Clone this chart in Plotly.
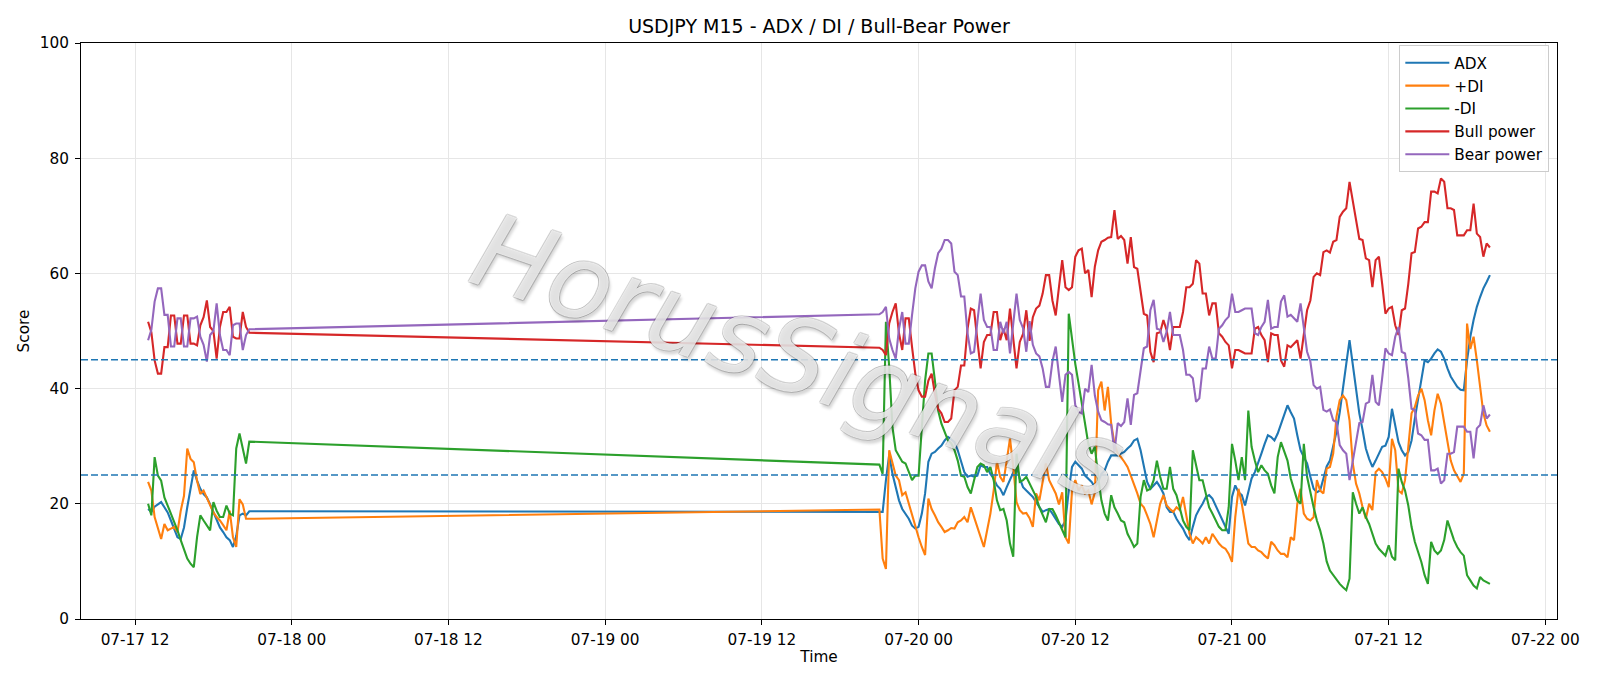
import plotly.graph_objects as go
import pandas as pd

# ---------------- data ----------------
SEG1_START = "2020-07-17 13:00"
SEG2_START = "2020-07-19 21:00"

ADX1 = [19.1, 18.6, 19.5, 19.9, 20.3, 19.4, 18.5, 17.1, 15.7, 14.2, 13.9, 15.9, 19.4, 22.9, 25.8, 24.0,
        22.6, 21.7, 21.1, 19.9, 18.5, 17.1, 15.9, 15.1, 14.2, 13.7, 12.5, 14.4, 18.0, 18.3, 18.0, 18.7]
PDI1 = [23.8, 22.3, 17.7, 16.0, 13.9, 16.5, 15.4, 15.7, 16.0, 15.1, 18.8, 21.4, 29.6, 27.8, 27.2, 24.0,
        21.7, 22.3, 21.1, 19.9, 18.5, 17.7, 17.1, 16.3, 15.4, 18.8, 14.2, 12.5, 20.8, 19.9, 17.4, 17.4]
MDI1 = [20.0, 18.0, 28.1, 24.9, 24.0, 21.1, 19.7, 18.3, 16.8, 15.4, 13.7, 12.2, 10.5, 9.6, 9.0, 14.2,
        18.0, 17.1, 16.3, 15.4, 20.3, 18.8, 17.7, 17.7, 19.7, 18.3, 18.0, 29.6, 32.2, 29.3, 27.0, 30.8]
BULL1 = [51.6, 49.8, 44.9, 42.6, 42.6, 47.2, 47.2, 52.7, 52.7, 47.8, 47.8, 52.7, 52.7, 47.8, 47.8, 47.5,
         51.0, 52.4, 55.3, 50.7, 50.0, 45.2, 50.7, 53.3, 53.3, 54.2, 49.0, 48.7, 48.7, 53.3, 50.7, 49.7]
BEAR1 = [48.4, 50.2, 55.1, 57.4, 57.4, 52.8, 52.8, 47.3, 47.3, 52.2, 52.2, 47.3, 47.3, 52.2, 52.2, 52.5,
         49.0, 47.6, 44.7, 49.3, 50.0, 54.8, 49.3, 46.7, 46.7, 45.8, 51.0, 51.3, 51.3, 46.7, 49.3, 50.3]

ADX2 = [18.6, 18.6, 24.1, 28.5, 25.2, 22.6, 20.6, 19.1, 18.3, 17.4,
        16.2, 15.7, 16.0, 18.3, 21.8, 27.3, 28.7, 29.0, 29.6, 30.1,
        31.0, 31.6, 31.2, 30.7, 29.3, 27.5, 25.5, 24.7, 24.9, 24.7,
        24.9, 26.7, 26.4, 26.4, 25.2, 24.4, 23.2, 22.6, 21.5, 22.9,
        24.1, 25.2, 26.7, 24.4, 22.9, 22.3, 21.8, 21.2, 20.3, 19.4,
        18.6, 18.9, 19.1, 18.3, 17.4, 16.5, 16.0, 17.1, 22.3, 26.4,
        27.3, 26.7, 26.1, 24.9, 24.4, 23.8, 22.9, 23.8, 25.2, 25.8,
        27.3, 28.4, 28.4, 28.4, 28.7, 29.0, 29.6, 30.1, 31.0, 31.3,
        29.3, 26.4, 23.8, 22.6, 23.2, 23.8, 22.9, 21.8, 19.4, 18.6,
        18.6, 17.4, 16.5, 15.7, 14.5, 13.7, 16.0, 18.0, 19.1, 20.0,
        21.2, 21.5, 20.9, 19.7, 18.3, 17.1, 16.0, 14.8, 21.2, 23.2,
        22.0, 21.5, 19.7, 22.3, 24.4, 25.5, 27.3, 28.7, 30.4, 31.9,
        31.6, 31.0, 32.2, 33.9, 35.4, 37.1, 35.9, 34.8, 31.9, 29.3,
        28.1, 27.0, 24.7, 22.6, 22.0, 22.3, 24.4, 26.5, 27.5, 29.9,
        32.5, 35.9, 39.7, 44.3, 48.4, 44.3, 39.7, 35.7, 32.8, 29.6,
        27.8, 26.4, 27.5, 28.7, 29.9, 30.1, 31.6, 36.5, 33.9, 30.7,
        29.3, 28.4, 29.0, 31.0, 34.8, 38.3, 41.4, 44.9, 44.6, 45.2,
        46.1, 46.8, 46.4, 45.2, 43.5, 42.1, 41.2, 40.3, 39.8, 39.7,
        44.9, 49.0, 51.9, 54.2, 55.9, 57.4, 58.5, 59.7]
PDI2 = [19.0, 10.5, 8.7, 29.3, 27.3, 24.9, 24.1, 21.5, 22.0, 20.0,
        18.3, 16.3, 14.2, 12.5, 11.1, 20.9, 19.1, 18.0, 16.8, 16.0,
        15.1, 15.4, 15.8, 15.7, 16.8, 17.1, 17.7, 16.8, 19.4, 17.7,
        16.0, 14.5, 12.5, 15.4, 18.3, 22.3, 27.3, 24.7, 23.8, 27.5,
        31.3, 26.4, 20.3, 18.9, 18.3, 18.4, 17.5, 16.0, 21.8, 20.6,
        24.1, 27.0, 24.1, 22.9, 21.8, 19.9, 22.0, 14.2, 13.1, 22.3,
        24.1, 22.3, 23.2, 21.8, 22.3, 19.9, 22.0, 39.7, 41.2, 36.2,
        40.3, 33.9, 30.4, 28.7, 28.1, 27.3, 26.4, 24.9, 23.5, 21.8,
        20.0, 19.4, 18.0, 16.5, 14.2, 16.8, 20.0, 21.5, 19.7, 19.1,
        18.6, 19.4, 18.9, 21.2, 18.3, 14.8, 13.1, 14.2, 13.7, 13.1,
        14.2, 13.1, 14.8, 13.9, 13.1, 12.5, 12.2, 11.3, 9.9, 17.7,
        22.6, 20.0, 16.8, 13.1, 12.5, 12.5, 11.9, 11.6, 11.0, 10.5,
        13.4, 12.8, 11.9, 11.3, 11.3, 10.7, 14.2, 13.7, 20.0, 22.6,
        18.3, 17.4, 17.1, 17.7, 24.1, 22.3, 21.8, 26.1, 26.4, 28.7,
        35.1, 38.0, 38.8, 38.0, 34.5, 27.0, 23.5, 21.8, 19.4, 17.4,
        20.0, 18.9, 25.5, 26.1, 25.5, 24.4, 22.9, 31.3, 29.3, 22.3,
        21.8, 24.1, 29.9, 35.7, 36.8, 38.8, 40.0, 38.0, 34.5, 31.9,
        36.2, 39.1, 37.4, 33.9, 30.7, 27.5, 25.8, 24.9, 23.8, 25.2,
        51.3, 46.9, 49.0, 44.9, 40.3, 35.7, 33.6, 32.5]
MDI2 = [26.8, 25.2, 51.6, 43.8, 33.3, 29.3, 28.4, 27.3, 27.0, 25.5,
        24.1, 24.9, 24.9, 33.3, 41.4, 46.1, 46.1, 41.4, 36.2, 33.9,
        32.5, 31.0, 30.5, 29.3, 27.5, 24.9, 24.7, 22.9, 21.8, 24.4,
        26.4, 27.0, 26.7, 25.5, 26.4, 24.1, 20.6, 18.9, 19.1, 17.1,
        13.1, 10.8, 28.7, 23.8, 24.1, 24.7, 23.5, 22.3, 21.2, 19.4,
        18.0, 16.8, 19.1, 19.1, 18.0, 16.8, 15.7, 14.2, 53.0, 48.4,
        44.3, 40.9, 37.4, 33.9, 30.4, 28.7, 29.9, 24.7, 20.6, 18.3,
        17.1, 21.5, 19.4, 18.3, 17.1, 16.8, 14.8, 13.7, 12.5, 13.1,
        21.2, 24.1, 22.3, 22.6, 24.1, 27.5, 24.7, 22.6, 22.6, 26.4,
        22.6, 21.5, 19.4, 17.1, 16.0, 15.4, 29.3, 26.7, 24.1, 24.1,
        21.8, 19.4, 18.3, 17.1, 16.0, 15.4, 15.4, 19.4, 30.4, 27.5,
        24.1, 28.1, 24.1, 36.2, 29.9, 27.5, 25.5, 26.7, 25.8, 25.2,
        23.2, 21.8, 28.1, 30.7, 29.0, 27.5, 24.4, 22.3, 20.6, 20.0,
        30.4, 24.7, 21.8, 19.4, 17.1, 15.4, 13.1, 10.0, 8.4, 7.6,
        6.7, 6.1, 5.5, 5.0, 7.0, 22.0, 20.0, 18.3, 19.4, 17.7,
        16.5, 14.8, 13.1, 12.2, 11.6, 11.0, 12.8, 10.8, 10.2, 26.1,
        23.8, 22.3, 19.7, 16.0, 13.4, 11.6, 9.9, 7.6, 6.1, 13.4,
        11.9, 11.3, 11.9, 13.7, 17.1, 15.4, 13.7, 12.5, 11.6, 11.0,
        7.6, 6.7, 5.8, 5.3, 7.3, 6.7, 6.4, 6.1]
BULL2 = [47.1, 46.7, 45.8, 51.3, 53.3, 54.8, 49.6, 46.7, 52.2, 52.2,
         47.2, 42.6, 39.7, 38.6, 38.6, 41.4, 42.6, 39.1, 36.5, 35.7,
         34.2, 34.2, 34.8, 39.7, 40.3, 44.0, 44.0, 50.4, 53.9, 53.6,
         48.4, 43.5, 48.1, 49.3, 49.3, 53.3, 53.3, 48.4, 50.4, 48.4,
         53.9, 48.4, 43.5, 48.1, 49.5, 53.6, 48.3, 52.4, 53.9, 54.4,
         56.5, 59.7, 59.7, 55.3, 52.7, 57.6, 62.3, 57.6, 57.1, 57.6,
         62.9, 64.0, 64.3, 60.0, 60.6, 55.9, 61.2, 64.0, 65.5, 65.8,
         66.2, 66.3, 71.0, 66.0, 66.5, 65.8, 61.7, 66.3, 61.1, 60.8,
         56.8, 53.0, 52.7, 46.4, 44.6, 49.6, 49.8, 51.9, 50.1, 46.7,
         50.7, 50.7, 50.7, 53.3, 57.6, 57.6, 58.2, 62.3, 61.7, 56.5,
         56.5, 52.7, 54.8, 54.8, 49.6, 49.0, 48.1, 47.5, 43.5, 46.7,
         46.7, 46.4, 46.1, 46.1, 46.1, 50.4, 50.7, 49.3, 48.4, 44.6,
         49.6, 49.3, 49.3, 44.9, 43.8, 47.5, 47.2, 47.8, 48.4, 45.2,
         49.6, 53.6, 55.3, 59.4, 60.0, 59.7, 63.7, 64.0, 63.6, 65.5,
         65.8, 69.8, 70.7, 71.3, 75.9, 72.7, 69.5, 66.0, 65.8, 62.6,
         62.3, 57.6, 62.3, 62.9, 58.2, 53.0, 53.9, 54.2, 51.0, 49.3,
         53.6, 53.9, 58.2, 63.5, 63.7, 67.8, 68.1, 68.9, 68.9, 74.2,
         74.2, 73.9, 76.5, 75.9, 71.3, 71.3, 71.0, 66.6, 66.6, 66.6,
         67.5, 67.5, 72.1, 66.9, 66.3, 62.9, 65.2, 64.5]
BEAR2 = [52.9, 53.3, 54.2, 48.7, 46.7, 45.2, 50.4, 53.3, 47.8, 47.8,
         52.8, 57.4, 60.3, 61.4, 61.4, 58.6, 57.4, 60.9, 63.5, 64.3,
         65.8, 65.8, 65.2, 60.3, 59.7, 56.0, 56.0, 49.6, 46.1, 46.4,
         51.6, 56.5, 51.9, 50.7, 50.7, 46.7, 46.7, 51.6, 49.6, 51.6,
         46.1, 51.6, 56.5, 51.9, 50.5, 46.4, 51.7, 47.6, 46.1, 45.6,
         43.5, 40.3, 40.3, 44.7, 47.3, 42.4, 37.7, 42.4, 42.9, 42.4,
         37.1, 36.0, 35.7, 40.0, 39.4, 44.1, 38.8, 36.0, 34.5, 34.2,
         33.8, 33.7, 29.0, 34.0, 33.5, 34.2, 38.3, 33.7, 38.9, 39.2,
         43.2, 47.0, 47.3, 53.6, 55.4, 50.4, 50.2, 48.1, 49.9, 53.3,
         49.3, 49.3, 49.3, 46.7, 42.4, 42.4, 41.8, 37.7, 38.3, 43.5,
         43.5, 47.3, 45.2, 45.2, 50.4, 51.0, 51.9, 52.5, 56.5, 53.3,
         53.3, 53.6, 53.9, 53.9, 53.9, 49.6, 49.3, 50.7, 51.6, 55.4,
         50.4, 50.7, 50.7, 55.1, 56.2, 52.5, 52.8, 52.2, 51.6, 54.8,
         50.4, 46.4, 44.7, 40.6, 40.0, 40.3, 36.3, 36.0, 36.4, 34.5,
         34.2, 30.2, 29.3, 28.7, 24.1, 27.3, 30.5, 34.0, 34.2, 37.4,
         37.7, 42.4, 37.7, 37.1, 41.8, 47.0, 46.1, 45.8, 49.0, 50.7,
         46.4, 46.1, 41.8, 36.5, 36.3, 32.2, 31.9, 31.1, 31.1, 25.8,
         25.8, 26.1, 23.5, 24.1, 28.7, 28.7, 29.0, 33.4, 33.4, 33.4,
         32.5, 32.5, 27.9, 33.1, 33.7, 37.1, 34.8, 35.5]

REF_LEVELS = [45, 25]
Y_TICKS = [0, 20, 40, 60, 80, 100]

for s in (ADX1, PDI1, MDI1, BULL1, BEAR1):
    assert len(s) == 32, len(s)
for s in (ADX2, PDI2, MDI2, BULL2, BEAR2):
    assert len(s) == 188, len(s)

TIME = list(pd.date_range(SEG1_START, periods=len(ADX1), freq="15min")) + \
       list(pd.date_range(SEG2_START, periods=len(ADX2), freq="15min"))

SERIES = [
    ("ADX", ADX1 + ADX2, "#1f77b4"),
    ("+DI", PDI1 + PDI2, "#ff7f0e"),
    ("-DI", MDI1 + MDI2, "#2ca02c"),
    ("Bull power", BULL1 + BULL2, "#d62728"),
    ("Bear power", BEAR1 + BEAR2, "#9467bd"),
]

FONT = "DejaVu Sans"
FS = 15.3

fig = go.Figure()
for name, vals, color in SERIES:
    fig.add_trace(go.Scatter(x=TIME, y=vals, mode="lines", name=name,
                             line=dict(color=color, width=2.1)))

for lvl in REF_LEVELS:
    fig.add_shape(type="line", xref="paper", x0=0, x1=1, yref="y", y0=lvl, y1=lvl,
                  line=dict(color="#1f77b4", width=1.6, dash="7px,3px"), layer="above")

# padded x range (5% of data span on each side)
t0, t1 = TIME[0], TIME[-1]
pad = (t1 - t0) * 0.05
x_range = [t0 - pad, t1 + pad]

fig.add_annotation(
    text="HorusSignals", xref="paper", yref="paper",
    x=0.486, y=0.455, showarrow=False, textangle=19,
    font=dict(family=FONT, size=104, color="rgba(255,255,255,0.8)", style="italic",
              shadow=("1px 0 0 rgba(0,0,0,0.2), -1px 0 0 rgba(0,0,0,0.2), "
                      "0 1px 0 rgba(0,0,0,0.2), 0 -1px 0 rgba(0,0,0,0.2), "
                      "3px 3px 3px rgba(0,0,0,0.2)")),
)

fig.update_layout(
    width=1600, height=686,
    paper_bgcolor="white", plot_bgcolor="white",
    margin=dict(l=81, r=43, t=43, b=67, autoexpand=False),
    font=dict(family=FONT, size=FS, color="black"),
    title=dict(text="USDJPY M15 - ADX / DI / Bull-Bear Power", x=0.5, xref="paper",
               y=1 - 26.5 / 686, yref="container", yanchor="middle",
               font=dict(family=FONT, size=19, color="black")),
    showlegend=True,
    legend=dict(x=0.9948, y=0.996, xanchor="right", yanchor="top", itemwidth=44,
                bgcolor="rgba(255,255,255,0.85)", bordercolor="#cccccc", borderwidth=1,
                font=dict(family=FONT, size=FS, color="black")),
    xaxis=dict(type="date", range=x_range, tickformat="%m-%d %H",
               tick0="2020-07-17 12:00", dtick=12 * 3600 * 1000,
               showgrid=True, gridcolor="#e6e6e6", gridwidth=1,
               showline=True, linecolor="black", linewidth=1, mirror=True,
               ticks="outside", ticklen=5, tickcolor="black", ticklabelstandoff=2,
               tickfont=dict(family=FONT, size=FS),
               title=dict(text="Time", standoff=2, font=dict(family=FONT, size=FS)),
               zeroline=False),
    yaxis=dict(range=[0, 100], tickvals=Y_TICKS,
               showgrid=True, gridcolor="#e6e6e6", gridwidth=1,
               showline=True, linecolor="black", linewidth=1, mirror=True,
               ticks="outside", ticklen=5, tickcolor="black", ticklabelstandoff=3,
               tickfont=dict(family=FONT, size=FS),
               title=dict(text="Score", standoff=6, font=dict(family=FONT, size=FS)),
               zeroline=False),
)

fig.write_html("out.html")
